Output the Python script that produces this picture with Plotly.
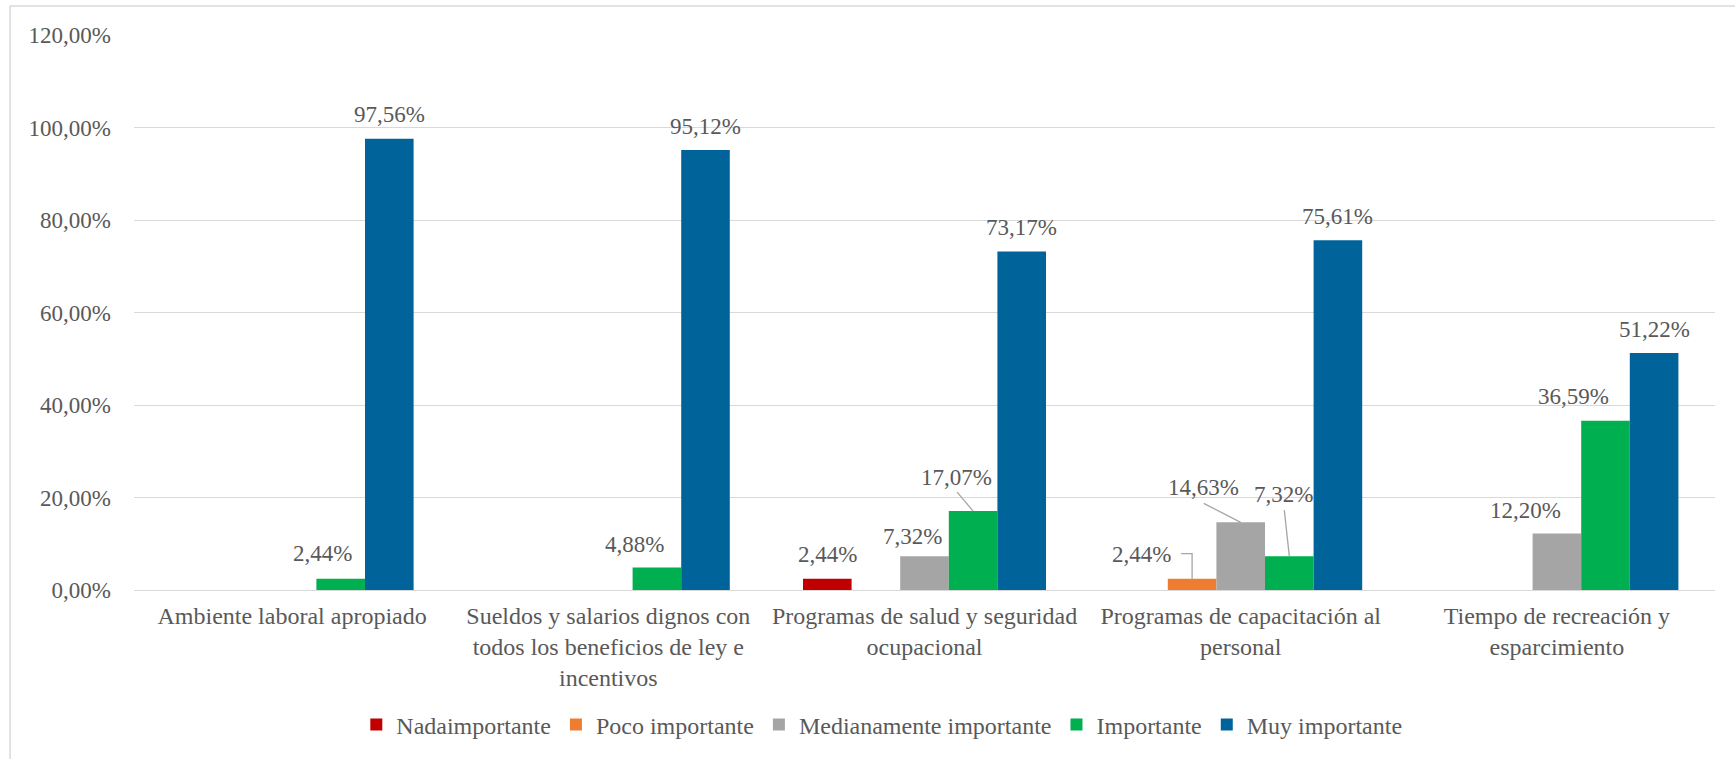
import plotly.graph_objects as go

# ---------------- data ----------------
categories = [
    "Ambiente laboral apropiado",
    "Sueldos y salarios dignos con<br>todos los beneficios de ley e<br>incentivos",
    "Programas de salud y seguridad<br>ocupacional",
    "Programas de capacitación al<br>personal",
    "Tiempo de recreación y<br>esparcimiento",
]
series_names = ["Nadaimportante", "Poco importante", "Medianamente importante",
                "Importante", "Muy importante"]
nada = [0, 0, 2.44, 0, 0]
poco = [0, 0, 0, 2.44, 0]
mediana = [0, 0, 7.32, 14.63, 12.20]
importante = [2.44, 4.88, 17.07, 7.32, 36.59]
muy = [97.56, 95.12, 73.17, 75.61, 51.22]
y_tick_vals = [0, 20, 40, 60, 80, 100, 120]
y_tick_labels = ["0,00%", "20,00%", "40,00%", "60,00%", "80,00%", "100,00%", "120,00%"]

# ---------------- style ----------------
colors = ["#C00000", "#ED7D31", "#A5A5A5", "#00B050", "#00649A"]
FONT = "Liberation Serif, Times New Roman, serif"
TXT = "#595959"
GRID = "#D9D9D9"
BARGAP = 0.2315

# label offsets (pixels) relative to default position above the bar: (series, category) -> (dx, dy)
label_offsets = {
    (3, 0): (-18, 1),
    (3, 1): (-22, -1),
    (2, 2): (-12, -4),
    (3, 2): (-17, 10),
    (1, 3): (-51, 0),
    (2, 3): (-37, 11),
    (3, 3): (-6, 38),
    (2, 4): (-31, -1),
    (3, 4): (-32, 0),
}
# leader lines, pixel paths relative to bar top centre (y up)
leaders = {
    (3, 2): "M-16,19 L0,0",
    (1, 3): "M-11,25 H0 V0",
    (2, 3): "M-37,19 L0,0",
    (3, 3): "M-5,46 L0,0",
}

all_series = [nada, poco, mediana, importante, muy]

fig = go.Figure()
for name, vals, col in zip(series_names, all_series, colors):
    fig.add_trace(go.Bar(name=name, x=list(range(len(categories))), y=vals,
                         marker=dict(color=col, line=dict(width=0)),
                         hoverinfo="skip"))

bw = (1 - BARGAP) / len(all_series)
annotations = []
shapes = []
for i, vals in enumerate(all_series):
    for j, v in enumerate(vals):
        if v <= 0:
            continue
        xb = j + (i - (len(all_series) - 1) / 2) * bw
        dx, dy = label_offsets.get((i, j), (0, 0))
        annotations.append(dict(
            x=xb, y=v, xref="x", yref="y", text=f"{v:.2f}".replace(".", ",") + "%",
            showarrow=False, xanchor="center", yanchor="middle",
            xshift=dx, yshift=24 + dy,
            font=dict(family=FONT, size=23, color=TXT)))
        if (i, j) in leaders:
            shapes.append(dict(
                type="path", xref="x", yref="y", xsizemode="pixel", ysizemode="pixel",
                xanchor=xb, yanchor=v, path=leaders[(i, j)],
                line=dict(color="#A6A6A6", width=1.3)))

# outer chart border
shapes.append(dict(type="rect", xref="paper", yref="paper",
                   x0=-0.0784, x1=1.02, y0=-0.33, y1=1.0523,
                   line=dict(color=GRID, width=1.5), fillcolor="rgba(0,0,0,0)", layer="below"))

fig.update_layout(
    width=1735, height=759,
    margin=dict(l=134, r=20, t=35, b=169),
    paper_bgcolor="white", plot_bgcolor="white",
    barmode="group", bargap=BARGAP, bargroupgap=0,
    font=dict(family=FONT, size=23, color=TXT),
    showlegend=True,
    legend=dict(orientation="h", x=0.473, xanchor="center", y=-0.243, yanchor="middle",
                font=dict(family=FONT, size=24, color=TXT), traceorder="normal",
                itemclick=False, itemdoubleclick=False),
    annotations=annotations,
    shapes=shapes,
)
fig.update_xaxes(tickmode="array", tickvals=list(range(len(categories))), ticktext=categories,
                 range=[-0.5, len(categories) - 0.5],
                 showgrid=False, showline=False, zeroline=False, ticks="",
                 tickfont=dict(family=FONT, size=24, color=TXT), ticklabelstandoff=9)
fig.update_yaxes(range=[0, 120], tickmode="array", tickvals=y_tick_vals, ticktext=y_tick_labels,
                 showgrid=True, gridcolor=GRID, gridwidth=1.3, zeroline=True, zerolinecolor=GRID,
                 zerolinewidth=1.3, showline=False, ticks="",
                 tickfont=dict(family=FONT, size=23, color=TXT), ticklabelstandoff=22)

fig.write_html("out.html", config={"displayModeBar": False},
               post_script="document.body.style.margin='0';")
